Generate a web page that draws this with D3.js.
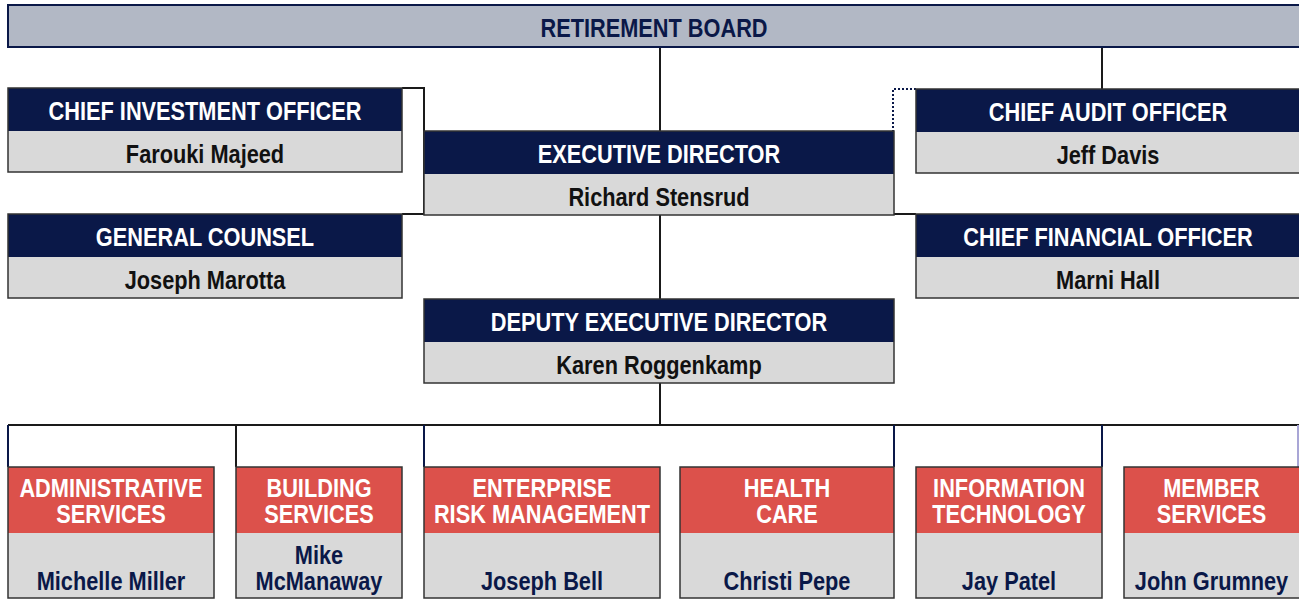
<!DOCTYPE html>
<html>
<head>
<meta charset="UTF-8" />
<title>Retirement Board Organization Chart</title>
<script src="https://cdn.jsdelivr.net/npm/d3@7"></script>
<style>
  body { margin: 0; background: #fff; }
  text { font-family: "Liberation Sans", Arial, sans-serif; font-weight: bold; }
</style>
</head>
<body>
<svg id="chart"></svg>
<script>
// chart content
const boardTitle = "RETIREMENT BOARD";
const officeTitles = ["CHIEF INVESTMENT OFFICER", "GENERAL COUNSEL", "EXECUTIVE DIRECTOR",
                      "DEPUTY EXECUTIVE DIRECTOR", "CHIEF AUDIT OFFICER", "CHIEF FINANCIAL OFFICER"];
const officeHolders = ["Farouki Majeed", "Joseph Marotta", "Richard Stensrud",
                       "Karen Roggenkamp", "Jeff Davis", "Marni Hall"];
const divisionTitles = [["ADMINISTRATIVE", "SERVICES"], ["BUILDING", "SERVICES"], ["ENTERPRISE", "RISK MANAGEMENT"],
                        ["HEALTH", "CARE"], ["INFORMATION", "TECHNOLOGY"], ["MEMBER", "SERVICES"]];
const divisionHeads = [["Michelle Miller"], ["Mike", "McManaway"], ["Joseph Bell"],
                       ["Christi Pepe"], ["Jay Patel"], ["John Grumney"]];

// layout (pixels)
const width = 1299, height = 600;
const officeBoxes = [[8, 402, 88], [8, 402, 214], [424, 894, 131], [424, 894, 299], [916, 1310, 89], [916, 1310, 214]];
const divisionCols = [[8, 214], [236, 402], [424, 660], [680, 894], [916, 1102], [1124, 1310]];
const navy = "#0a1848", red = "#dc514b", grey = "#d9d9d9", edge = "#333";

const svg = d3.select("#chart").attr("width", width).attr("height", height);

function label(g, cx, cy, lines, color, size, lh) {
    const t = g.append("text")
        .attr("transform", `translate(${cx},${cy + 1}) scale(0.87,1)`)
        .attr("text-anchor", "middle")
        .attr("fill", color)
        .style("font-size", size + "px");
    lines.forEach((s, i) => {
        t.append("tspan").attr("x", 0)
            .attr("y", (i - (lines.length - 1) / 2) * lh)
            .attr("dy", "0.36em")
            .text(s);
    });
}

// connectors (drawn first)
const links = svg.append("g").attr("fill", "none");
const path = d3.path();
path.moveTo(660, 47); path.lineTo(660, 131);
path.moveTo(660, 215); path.lineTo(660, 299);
path.moveTo(660, 382); path.lineTo(660, 425);
path.moveTo(1102, 47); path.lineTo(1102, 89);
path.moveTo(402, 88); path.lineTo(424, 88); path.lineTo(424, 214); path.lineTo(402, 214);
path.moveTo(894, 214); path.lineTo(916, 214);
path.moveTo(8, 425); path.lineTo(1299, 425);
links.append("path").attr("d", path.toString()).attr("stroke", "#1a1a1a").attr("stroke-width", 2);

links.append("path")
    .attr("d", "M916,89H893V131")
    .attr("stroke", navy).attr("stroke-width", 2).attr("stroke-dasharray", "2,2");

const drops = [8, 236, 424, 894, 1102, 1298];
links.selectAll("line.drop").data(drops).join("line")
    .attr("class", "drop")
    .attr("x1", d => d).attr("x2", d => d)
    .attr("y1", 425).attr("y2", 467)
    .attr("stroke", (d, i) => i === 1 ? "#1a1a1a" : (i === 5 ? "#a9a6d6" : navy))
    .attr("stroke-width", 2);

// board bar
const boardG = svg.append("g");
boardG.append("rect").attr("x", 8).attr("y", 5).attr("width", 1300).attr("height", 42)
    .attr("fill", "#b2b8c5").attr("stroke", navy).attr("stroke-width", 2);
label(boardG, 654, 27, [boardTitle], navy, 25, 26);

// office boxes
officeTitles.forEach((title, i) => {
    const [x0, x1, y0] = officeBoxes[i];
    const g = svg.append("g");
    const cx = i >= 4 ? 1108 : (x0 + x1) / 2;
    g.append("rect").attr("x", x0).attr("y", y0).attr("width", x1 - x0).attr("height", 43).attr("fill", navy);
    g.append("rect").attr("x", x0).attr("y", y0 + 43).attr("width", x1 - x0).attr("height", 41).attr("fill", grey);
    g.append("rect").attr("x", x0).attr("y", y0).attr("width", x1 - x0).attr("height", 84)
        .attr("fill", "none").attr("stroke", edge).attr("stroke-width", 1.5);
    label(g, cx, y0 + 22, [title], "#fff", 25, 26);
    label(g, cx, y0 + 65, [officeHolders[i]], "#111", 25, 26);
});

// divisions
divisionTitles.forEach((title, i) => {
    const [x0, x1] = divisionCols[i];
    const g = svg.append("g");
    const cx = (x0 + Math.min(x1, 1299)) / 2;
    g.append("rect").attr("x", x0).attr("y", 467).attr("width", x1 - x0).attr("height", 66).attr("fill", red);
    g.append("rect").attr("x", x0).attr("y", 533).attr("width", x1 - x0).attr("height", 65).attr("fill", grey);
    g.append("rect").attr("x", x0).attr("y", 467).attr("width", x1 - x0).attr("height", 131)
        .attr("fill", "none").attr("stroke", edge).attr("stroke-width", 1.5);
    label(g, cx, 500, title, "#fff", 25, 26);
    const heads = divisionHeads[i];
    label(g, cx, 580 - (heads.length - 1) * 13, heads, navy, 25, 26);
});
</script>
</body>
</html>
